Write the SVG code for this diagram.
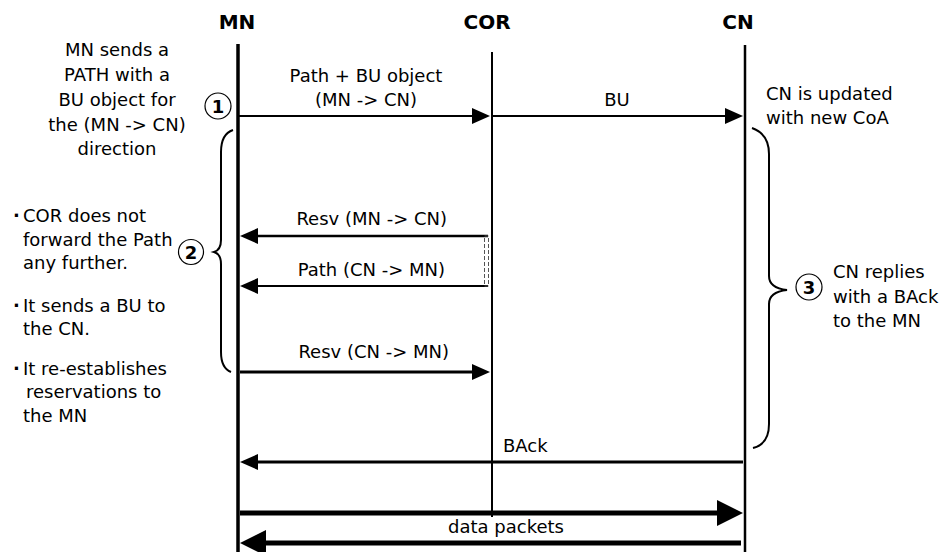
<svg xmlns="http://www.w3.org/2000/svg" width="941" height="552" viewBox="0 0 941 552">
  <style>
    text { font-family: "DejaVu Sans", "Liberation Sans", sans-serif; font-size: 18px; fill: #000; }
    .head { font-weight: bold; text-anchor: middle; font-size: 20px; }
    .mid { text-anchor: middle; }
    .end { text-anchor: end; }
    .bul { font-weight: bold; }
    .num { font-weight: bold; text-anchor: middle; font-size: 18px; }
    .life { stroke: #000; fill: none; }
    .brace { stroke: #000; stroke-width: 2; fill: none; }
    .circ { stroke: #000; stroke-width: 1.2; fill: #fff; }
    .msg { stroke: #000; fill: none; }
  </style>
  <defs>
    <marker id="arr" markerUnits="userSpaceOnUse" markerWidth="18" markerHeight="16" refX="1" refY="8" orient="auto">
      <path d="M0,0 L18,8 L0,16 z" fill="#000"/>
    </marker>
    <marker id="big" markerUnits="userSpaceOnUse" markerWidth="26" markerHeight="26" refX="1" refY="13" orient="auto">
      <path d="M0,0 L26,13 L0,26 z" fill="#000"/>
    </marker>
  </defs>
  <rect width="941" height="552" fill="#fff"/>

  <g id="MN">
    <text class="head" x="237" y="29">MN</text>
    <line class="life" x1="238" y1="44" x2="238" y2="552" stroke-width="3.5"/>
  </g>
  <g id="COR">
    <text class="head" x="487" y="29">COR</text>
    <line class="life" x1="492" y1="52" x2="492" y2="517" stroke-width="2"/>
  </g>
  <g id="CN">
    <text class="head" x="738" y="29">CN</text>
    <line class="life" x1="745" y1="45" x2="745" y2="552" stroke-width="2.5"/>
  </g>

  <g id="connectors">
    <line class="msg" x1="238" y1="116" x2="473" y2="116" stroke-width="2" marker-end="url(#arr)"/>
    <line class="msg" x1="492" y1="116" x2="726" y2="116" stroke-width="2" marker-end="url(#arr)"/>
    <line class="msg" x1="488" y1="236" x2="257" y2="236" stroke-width="2.5" marker-end="url(#arr)"/>
    <line class="msg" x1="488" y1="286" x2="257" y2="286" stroke-width="2" marker-end="url(#arr)"/>
    <rect x="484.5" y="236" width="4" height="50" fill="none" stroke="#555" stroke-width="1" stroke-dasharray="4,2"/>
    <line class="msg" x1="240" y1="372" x2="473" y2="372" stroke-width="3" marker-end="url(#arr)"/>
    <line class="msg" x1="743" y1="462" x2="257" y2="462" stroke-width="3" marker-end="url(#arr)"/>
    <line class="msg" x1="240" y1="513" x2="718" y2="513" stroke-width="5" marker-end="url(#big)"/>
    <line class="msg" x1="741" y1="543" x2="265" y2="543" stroke-width="5" marker-end="url(#big)"/>
  </g>

  <g id="labels">
    <text class="mid" x="366" y="82">Path + BU object</text>
    <text class="mid" x="366" y="106">(MN -&gt; CN)</text>
    <text class="mid" x="617" y="106">BU</text>
    <text class="end" x="447" y="225">Resv (MN -&gt; CN)</text>
    <text class="end" x="445" y="276">Path (CN -&gt; MN)</text>
    <text class="end" x="449" y="358">Resv (CN -&gt; MN)</text>
    <text x="503" y="452">BAck</text>
    <text class="mid" x="506" y="533">data  packets</text>
  </g>

  <g id="step1">
    <text class="mid" x="117" y="56">MN sends a</text>
    <text class="mid" x="117" y="81">PATH with a</text>
    <text class="mid" x="117" y="106">BU object for</text>
    <text class="mid" x="117" y="131">the (MN -&gt; CN)</text>
    <text class="mid" x="117" y="155">direction</text>
    <circle class="circ" cx="218" cy="106" r="13"/>
    <text class="num" x="218" y="113">1</text>
  </g>

  <g id="step2">
    <text class="bul" x="13" y="222">·</text><text x="23" y="222">COR does not</text>
    <text x="23" y="246">forward the Path</text>
    <text x="23" y="269">any further.</text>
    <text class="bul" x="13" y="312">·</text><text x="23" y="312">It sends a BU to</text>
    <text x="23" y="335">the CN.</text>
    <text class="bul" x="13" y="375">·</text><text x="23" y="375">It re-establishes</text>
    <text x="26" y="398">reservations to</text>
    <text x="23" y="422">the MN</text>
    <circle class="circ" cx="191" cy="252" r="12.5"/>
    <text class="num" x="191" y="259">2</text>
    <path class="brace" d="M233,130 Q221,134 221,152 L221,240 Q221,250 214,252 Q221,254 221,264 L221,352 Q221,368 231,372"/>
  </g>

  <g id="cn-note">
    <text x="766" y="100">CN is updated</text>
    <text x="766" y="124">with new CoA</text>
  </g>

  <g id="step3">
    <path class="brace" d="M752,128 Q769,134 769,154 L769,276 Q769,288 787,290 Q769,292 769,304 L769,424 Q769,444 753,448"/>
    <circle class="circ" cx="809" cy="287" r="13"/>
    <text class="num" x="809" y="294">3</text>
    <text x="833" y="278">CN replies</text>
    <text x="833" y="303">with a BAck</text>
    <text x="833" y="327">to the MN</text>
  </g>
</svg>
